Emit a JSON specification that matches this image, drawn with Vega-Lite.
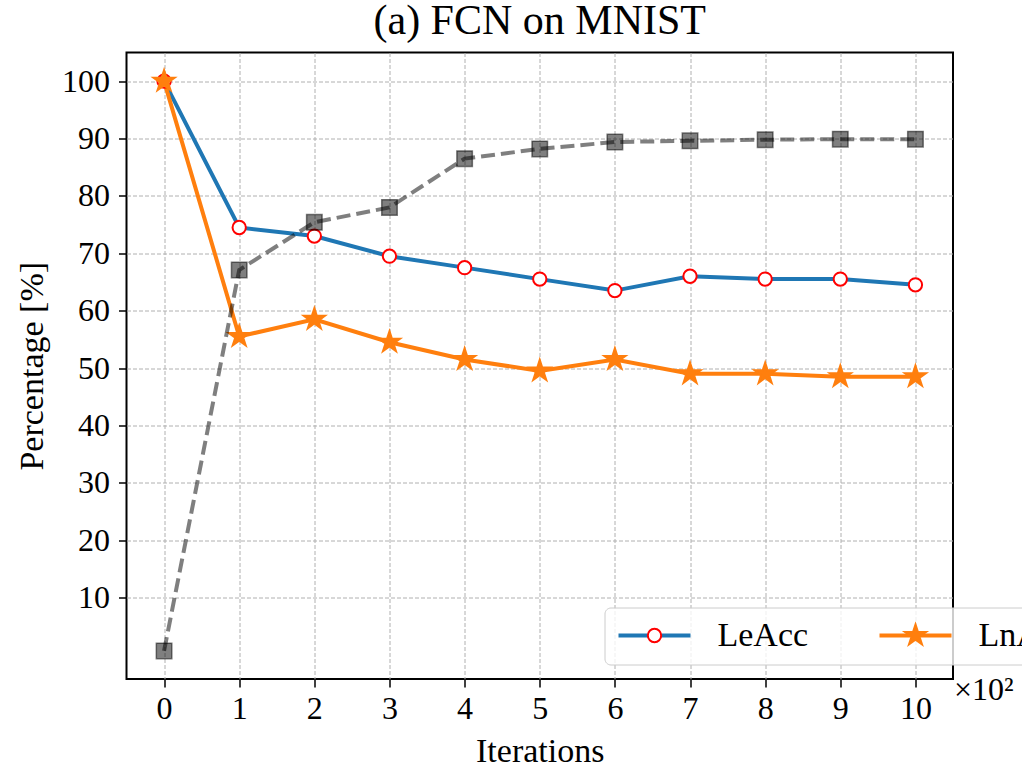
{
  "$schema": "https://vega.github.io/schema/vega-lite/v6.json",
  "width": 826.5,
  "height": 626.5,
  "autosize": {"type": "none"},
  "padding": {"left": 126.5, "top": 52.5, "right": 69, "bottom": 86},
  "background": "white",
  "title": {"text": "(a) FCN on MNIST", "anchor": "middle", "frame": "group", "offset": -23, "baseline": "alphabetic", "font": "Liberation Serif", "fontSize": 42, "fontWeight": "normal", "color": "black"},
  "data": {"values": [
    {"iter": 0, "series": "LeAcc", "value": 100},
    {"iter": 1, "series": "LeAcc", "value": 74.5},
    {"iter": 2, "series": "LeAcc", "value": 73},
    {"iter": 3, "series": "LeAcc", "value": 69.5},
    {"iter": 4, "series": "LeAcc", "value": 67.5},
    {"iter": 5, "series": "LeAcc", "value": 65.5},
    {"iter": 6, "series": "LeAcc", "value": 63.5},
    {"iter": 7, "series": "LeAcc", "value": 66},
    {"iter": 8, "series": "LeAcc", "value": 65.5},
    {"iter": 9, "series": "LeAcc", "value": 65.5},
    {"iter": 10, "series": "LeAcc", "value": 64.5},
    {"iter": 0, "series": "LnAcc", "value": 100},
    {"iter": 1, "series": "LnAcc", "value": 55.5},
    {"iter": 2, "series": "LnAcc", "value": 58.5},
    {"iter": 3, "series": "LnAcc", "value": 54.5},
    {"iter": 4, "series": "LnAcc", "value": 51.5},
    {"iter": 5, "series": "LnAcc", "value": 49.5},
    {"iter": 6, "series": "LnAcc", "value": 51.5},
    {"iter": 7, "series": "LnAcc", "value": 49},
    {"iter": 8, "series": "LnAcc", "value": 49},
    {"iter": 9, "series": "LnAcc", "value": 48.5},
    {"iter": 10, "series": "LnAcc", "value": 48.5},
    {"iter": 0, "series": "Overlap", "value": 0.7},
    {"iter": 1, "series": "Overlap", "value": 67.1},
    {"iter": 2, "series": "Overlap", "value": 75.4},
    {"iter": 3, "series": "Overlap", "value": 78},
    {"iter": 4, "series": "Overlap", "value": 86.5},
    {"iter": 5, "series": "Overlap", "value": 88.2},
    {"iter": 6, "series": "Overlap", "value": 89.4},
    {"iter": 7, "series": "Overlap", "value": 89.6},
    {"iter": 8, "series": "Overlap", "value": 89.8},
    {"iter": 9, "series": "Overlap", "value": 89.9},
    {"iter": 10, "series": "Overlap", "value": 89.9}
  ]},
  "layer": [
    {
      "encoding": {
        "x": {"field": "iter", "type": "quantitative",
          "scale": {"domain": [-0.5, 10.5], "nice": false, "zero": false},
          "axis": {"title": "Iterations", "values": [0,1,2,3,4,5,6,7,8,9,10], "format": "d", "labelPadding": 6,
            "titleX": 413.25, "titleY": 82.7, "titleBaseline": "alphabetic", "titleAlign": "center"}},
        "y": {"field": "value", "type": "quantitative",
          "scale": {"domain": [-4.2, 105], "nice": false, "zero": false},
          "axis": {"title": "Percentage [%]", "values": [10,20,30,40,50,60,70,80,90,100], "labelPadding": 9,
            "titleAngle": 270, "titleX": -83.8, "titleY": 313.25, "titleBaseline": "alphabetic", "titleAlign": "center"}}
      },
      "layer": [
        {
          "transform": [{"filter": {"field": "series", "oneOf": ["LeAcc", "LnAcc"]}}],
          "mark": {"type": "line", "strokeWidth": 4},
          "encoding": {
            "color": {"field": "series", "type": "nominal",
              "scale": {"domain": ["LeAcc", "LnAcc"], "range": ["#1f77b4", "#ff7f0e"]},
              "legend": {"orient": "none", "legendX": 478, "legendY": 555, "direction": "horizontal", "title": null,
                "symbolType": "stroke", "symbolSize": 5184, "symbolStrokeWidth": 4, "clipHeight": 32,
                "labelFont": "Liberation Serif", "labelFontSize": 34, "labelColor": "black", "labelOffset": 25,
                "columnPadding": 69, "padding": 12, "fillColor": "rgba(255,255,255,0.8)", "strokeColor": "#cccccc",
                "cornerRadius": 6}}
          }
        },
        {
          "transform": [{"filter": {"field": "series", "oneOf": ["LeAcc", "LnAcc"]}}],
          "mark": {"type": "point", "filled": true, "opacity": 1, "size": 5476, "strokeWidth": 2},
          "encoding": {
            "shape": {"field": "series", "type": "nominal",
              "scale": {"range": ["M0.18,0A0.18,0.18,0,1,1,-0.18,0A0.18,0.18,0,1,1,0.18,0Z", "M0,-0.3L0.0674,-0.0927L0.2853,-0.0927L0.1091,0.0355L0.1763,0.2427L0,0.1146L-0.1763,0.2427L-0.1091,0.0355L-0.2853,-0.0927L-0.0674,-0.0927Z"]},
              "legend": {"orient": "none", "legendX": 478, "legendY": 555, "direction": "horizontal", "title": null,
                "symbolSize": 5476, "symbolStrokeWidth": 2, "symbolOpacity": 1, "clipHeight": 32,
                "labelFont": "Liberation Serif", "labelFontSize": 34, "labelOpacity": 0, "labelOffset": 25,
                "columnPadding": 69, "padding": 12}},
            "fill": {"field": "series", "type": "nominal",
              "scale": {"range": ["white", "#ff7f0e"]},
              "legend": {"orient": "none", "legendX": 478, "legendY": 555, "direction": "horizontal", "title": null,
                "symbolSize": 5476, "symbolStrokeWidth": 2, "symbolOpacity": 1, "clipHeight": 32,
                "labelFont": "Liberation Serif", "labelFontSize": 34, "labelOpacity": 0, "labelOffset": 25,
                "columnPadding": 69, "padding": 12}},
            "stroke": {"field": "series", "type": "nominal",
              "scale": {"range": ["red", "#ff7f0e"]},
              "legend": {"orient": "none", "legendX": 478, "legendY": 555, "direction": "horizontal", "title": null,
                "symbolSize": 5476, "symbolStrokeWidth": 2, "symbolOpacity": 1, "clipHeight": 32,
                "labelFont": "Liberation Serif", "labelFontSize": 34, "labelOpacity": 0, "labelOffset": 25,
                "columnPadding": 69, "padding": 12}}
          }
        },
        {
          "transform": [{"filter": {"field": "series", "equal": "Overlap"}}],
          "mark": {"type": "line", "color": "black", "strokeOpacity": 0.5, "strokeWidth": 4, "strokeDash": [14, 6]}
        },
        {
          "transform": [{"filter": {"field": "series", "equal": "Overlap"}}],
          "mark": {"type": "point", "shape": "square", "size": 240, "filled": true, "opacity": 1, "fill": "black", "fillOpacity": 0.5, "stroke": "black", "strokeOpacity": 0.5, "strokeWidth": 1.5}
        }
      ]
    },
    {
      "data": {"values": [{}]},
      "mark": {"type": "text", "text": "×10²", "align": "left", "baseline": "alphabetic", "dx": 1, "dy": 21, "font": "Liberation Serif", "fontSize": 32, "color": "black"},
      "encoding": {"x": {"datum": 10.5, "type": "quantitative"}, "y": {"datum": -4.2, "type": "quantitative"}}
    }
  ],
  "config": {
    "view": {"stroke": "black", "strokeWidth": 2},
    "axis": {"domain": false, "grid": true, "gridColor": "#b0b0b0", "gridDash": [4, 2], "gridWidth": 1, "gridOpacity": 1,
      "tickColor": "black", "tickSize": 8, "tickWidth": 1.5,
      "labelFont": "Liberation Serif", "labelFontSize": 32, "labelColor": "black",
      "titleFont": "Liberation Serif", "titleFontSize": 34, "titleFontWeight": "normal", "titleColor": "black",
      "labelFlush": false, "labelOverlap": false}
  }
}
